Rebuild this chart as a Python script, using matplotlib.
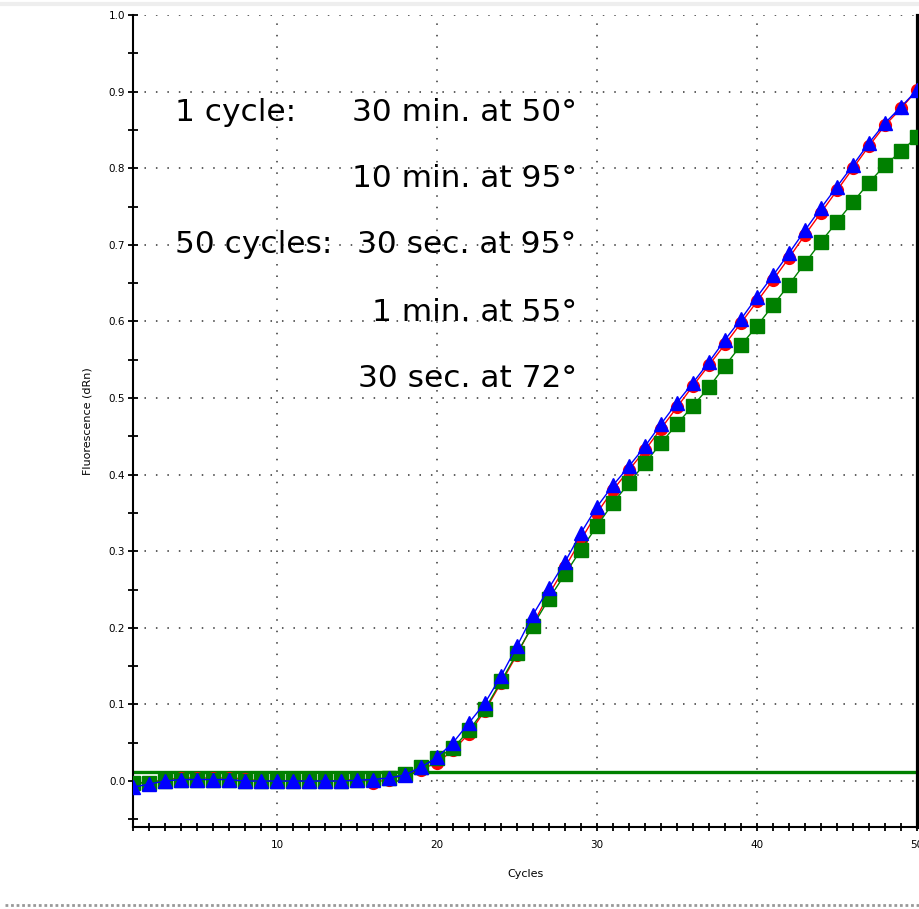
import matplotlib
matplotlib.use('Agg')
import matplotlib.pyplot as plt
from matplotlib.lines import Line2D
from matplotlib.ticker import MultipleLocator

# amplification curves, dRn per cycle
cycles = list(range(1, 51))

red = [-0.002, -0.002, 0.002, 0.004, 0.004, 0.004, 0.004, 0.003, 0.0, 0.0,
       0.001, 0.0, 0.001, 0.0, 0.003, -0.002, 0.002, 0.008, 0.015, 0.024,
       0.040, 0.062, 0.092, 0.128, 0.165, 0.205, 0.244, 0.279, 0.315, 0.350,
       0.380, 0.406, 0.432, 0.460, 0.488, 0.516, 0.543, 0.570, 0.598, 0.626,
       0.654, 0.683, 0.713, 0.742, 0.771, 0.800, 0.829, 0.856, 0.878, 0.902]

green = [-0.002, -0.003, 0.0, 0.002, 0.002, 0.002, 0.002, 0.0, 0.0, 0.0,
         0.0, 0.0, 0.0, 0.0, 0.001, 0.003, 0.004, 0.009, 0.018, 0.030,
         0.043, 0.066, 0.094, 0.130, 0.167, 0.203, 0.238, 0.270, 0.302, 0.333,
         0.363, 0.389, 0.415, 0.441, 0.466, 0.490, 0.514, 0.542, 0.569, 0.594,
         0.621, 0.648, 0.676, 0.704, 0.730, 0.756, 0.781, 0.804, 0.822, 0.841]

blue = [-0.008, -0.004, 0.0, 0.002, 0.002, 0.002, 0.002, 0.0, 0.0, 0.0,
        0.0, 0.0, 0.0, 0.0, 0.001, 0.002, 0.004, 0.008, 0.018, 0.031,
        0.050, 0.076, 0.102, 0.137, 0.176, 0.217, 0.252, 0.286, 0.324, 0.358,
        0.386, 0.411, 0.437, 0.466, 0.494, 0.520, 0.547, 0.576, 0.603, 0.632,
        0.660, 0.689, 0.719, 0.748, 0.776, 0.804, 0.833, 0.859, 0.880, 0.902]

threshold = 0.012

protocol_left = ['1 cycle:', '', '50 cycles:', '', '']
protocol_right = ['30 min. at 50\u00b0', '10 min. at 95\u00b0', '30 sec. at 95\u00b0',
                  '1 min. at 55\u00b0', '30 sec. at 72\u00b0']

RED = '#ff0000'
GREEN = '#008000'
BLUE = '#0000ff'

fig = plt.figure(figsize=(9.19, 9.09), dpi=100)
ax = fig.add_axes([133 / 919, 1 - 827 / 909, 784 / 919, 812 / 909])

ax.plot(cycles, red, color=RED, lw=1, marker='o', ms=8.5, mec=RED, mfc=RED, zorder=3)
ax.plot(cycles, green, color=GREEN, lw=1, marker='s', ms=9.5, mec=GREEN, mfc=GREEN, zorder=4)
ax.plot(cycles, blue, color=BLUE, lw=1, marker='^', ms=10, mec=BLUE, mfc=BLUE, zorder=5)
ax.axhline(threshold, color=GREEN, lw=2.4, zorder=2)

ax.set_xlim(1, 50)
ax.set_ylim(-0.06, 1.0)

ax.xaxis.set_major_locator(MultipleLocator(10))
ax.xaxis.set_minor_locator(MultipleLocator(1))
ax.yaxis.set_major_locator(MultipleLocator(0.1))
ax.yaxis.set_minor_locator(MultipleLocator(0.05))
ax.yaxis.set_major_formatter(matplotlib.ticker.FormatStrFormatter('%.1f'))

ax.grid(True, which='major', color='#333333', lw=1.1, linestyle=(0, (1, 6.5)))
ax.set_axisbelow(True)

ax.tick_params(which='both', direction='inout', color='black', width=1.3,
               labelsize=7.5, pad=2)
ax.tick_params(axis='y', which='both', length=7)
ax.tick_params(axis='x', which='both', length=6)
ax.tick_params(axis='x', which='major', pad=6)

for side in ['left', 'bottom']:
    ax.spines[side].set_linewidth(1.5)
ax.spines['right'].set_linewidth(2.3)
ax.spines['top'].set_visible(False)

ax.set_xlabel('Cycles', fontsize=8, labelpad=14)
ax.set_ylabel('Fluorescence (dRn)', fontsize=8, labelpad=12)

# run protocol written over the plot
baselines = [0.8695, 0.788, 0.707, 0.623, 0.542]
for lt, rt, yb in zip(protocol_left, protocol_right, baselines):
    if lt:
        ax.text(0.0536, yb, lt, transform=ax.transAxes, ha='left', va='baseline',
                fontsize=22.5, family='DejaVu Sans', zorder=6)
    ax.text(0.566, yb, rt, transform=ax.transAxes, ha='right', va='baseline',
            fontsize=22.5, family='DejaVu Sans', zorder=6)

# window edges
fig.add_artist(Line2D([0, 1], [1 - 4 / 909, 1 - 4 / 909], color='#eeeeee', lw=3,
                      transform=fig.transFigure))
fig.add_artist(Line2D([0.005, 1], [1 - 905 / 909, 1 - 905 / 909], color='#999999', lw=2,
                      linestyle=(0, (1, 1)), transform=fig.transFigure))

fig.savefig('out.png', dpi=100)
